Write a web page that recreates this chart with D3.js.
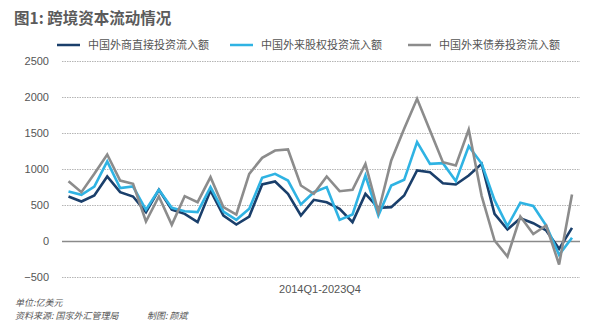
<!DOCTYPE html>
<html><head><meta charset="utf-8">
<script src="https://cdn.jsdelivr.net/npm/d3@7"></script>
<style>
html,body{margin:0;padding:0;background:#fff;}
svg{display:block;font-family:"Noto Sans CJK SC","Noto Sans",sans-serif;}
</style></head>
<body><svg id="c" width="600" height="331"></svg>
<script>
const quarters = ["2014Q1","2014Q2","2014Q3","2014Q4","2015Q1","2015Q2","2015Q3","2015Q4",
"2016Q1","2016Q2","2016Q3","2016Q4","2017Q1","2017Q2","2017Q3","2017Q4",
"2018Q1","2018Q2","2018Q3","2018Q4","2019Q1","2019Q2","2019Q3","2019Q4",
"2020Q1","2020Q2","2020Q3","2020Q4","2021Q1","2021Q2","2021Q3","2021Q4",
"2022Q1","2022Q2","2022Q3","2022Q4","2023Q1","2023Q2","2023Q3","2023Q4"];
const fdi = [611,542,625,889,671,611,394,704,430,370,255,694,347,222,333,778,819,648,347,565,530,440,255,648,454,463,625,972,949,796,778,903,1065,370,153,310,240,139,-116,176];
const equity = [681,634,750,1097,727,750,426,704,454,407,394,741,403,287,440,870,926,833,500,671,741,287,361,903,347,764,843,1366,1065,1074,825,1310,1069,560,200,525,480,208,-200,37];
const bonds = [824,671,926,1194,833,787,264,611,218,616,532,880,463,361,926,1148,1250,1264,764,648,889,685,704,1065,394,1111,1551,1968,1528,1088,1042,1540,620,0,-222,333,90,208,-333,639];
const yTicks = [-500,0,500,1000,1500,2000,2500];
const seriesNames = ["中国外商直接投资流入额","中国外来股权投资流入额","中国外来债券投资流入额"];
const seriesColors = ["#1a3f6b","#2fb3e3","#8c8c8c"];
const xLabel = "2014Q1-2023Q4";
const title = "图1: 跨境资本流动情况";
const unitNote = "单位:亿美元";
const sourceNote = "资料来源: 国家外汇管理局";
const authorNote = "制图: 颜斌";

const svg = d3.select("#c");
const x = d3.scalePoint().domain(quarters).range([68.5, 572]);
const y = d3.scaleLinear().domain([-500, 2500]).range([276.5, 60.5]);
const gridX0 = 62, gridX1 = 580;

// title
svg.append("text").attr("x", 14).attr("y", 24).attr("font-size", 15.5).attr("font-weight", "bold")
  .attr("fill", "#5b5b5b").text(title);

// legend
const legendX = [57, 230, 408];
seriesNames.forEach((n, i) => {
  const g = svg.append("g").attr("transform", `translate(${legendX[i]},45)`);
  g.append("line").attr("x1", 0).attr("x2", 23).attr("y1", 0).attr("y2", 0)
    .attr("stroke", seriesColors[i]).attr("stroke-width", 2.5);
  g.append("text").attr("x", 31).attr("y", 4).attr("font-size", 11).attr("fill", "#555").text(n);
});

// y axis labels
const yAxis = d3.axisLeft(y).tickValues(yTicks).tickSize(0).tickPadding(0).tickFormat(d3.format("d"));
const ga = svg.append("g").attr("transform", "translate(49,0)").call(yAxis);
ga.select(".domain").remove();
ga.selectAll("text").attr("font-size", 11).attr("fill", "#555").attr("font-family", "Liberation Sans, Arial, sans-serif");

// grid
svg.append("g").selectAll("line").data(yTicks).join("line")
  .attr("x1", gridX0).attr("x2", gridX1)
  .attr("y1", d => Math.round(y(d)) + 0.5).attr("y2", d => Math.round(y(d)) + 0.5)
  .attr("stroke", d => d === 0 ? "#8a8a8a" : "#b5b5b5")
  .attr("stroke-width", d => d === 0 ? 1.3 : 1)
  .attr("stroke-dasharray", d => d === 0 ? null : "1.5,1");

// lines
const line = d3.line().x((d, i) => x(quarters[i])).y(d => y(d));
[fdi, equity, bonds].forEach((s, i) => {
  svg.append("path").datum(s).attr("d", line).attr("fill", "none")
    .attr("stroke", seriesColors[i]).attr("stroke-width", 2.6).attr("stroke-linejoin", "miter");
});

// x label
svg.append("text").attr("x", 320).attr("y", 293).attr("text-anchor", "middle").attr("font-size", 11)
  .attr("fill", "#555").attr("font-family", "Liberation Sans, Arial, sans-serif").text(xLabel);

// notes
svg.append("text").attr("x", 15).attr("y", 306).attr("font-size", 9).attr("font-style", "italic")
  .attr("fill", "#555").text(unitNote);
svg.append("text").attr("x", 15).attr("y", 318.5).attr("font-size", 9).attr("font-style", "italic")
  .attr("fill", "#555").text(sourceNote);
svg.append("text").attr("x", 147).attr("y", 318.5).attr("font-size", 9).attr("font-style", "italic")
  .attr("fill", "#555").text(authorNote);
</script></body></html>
